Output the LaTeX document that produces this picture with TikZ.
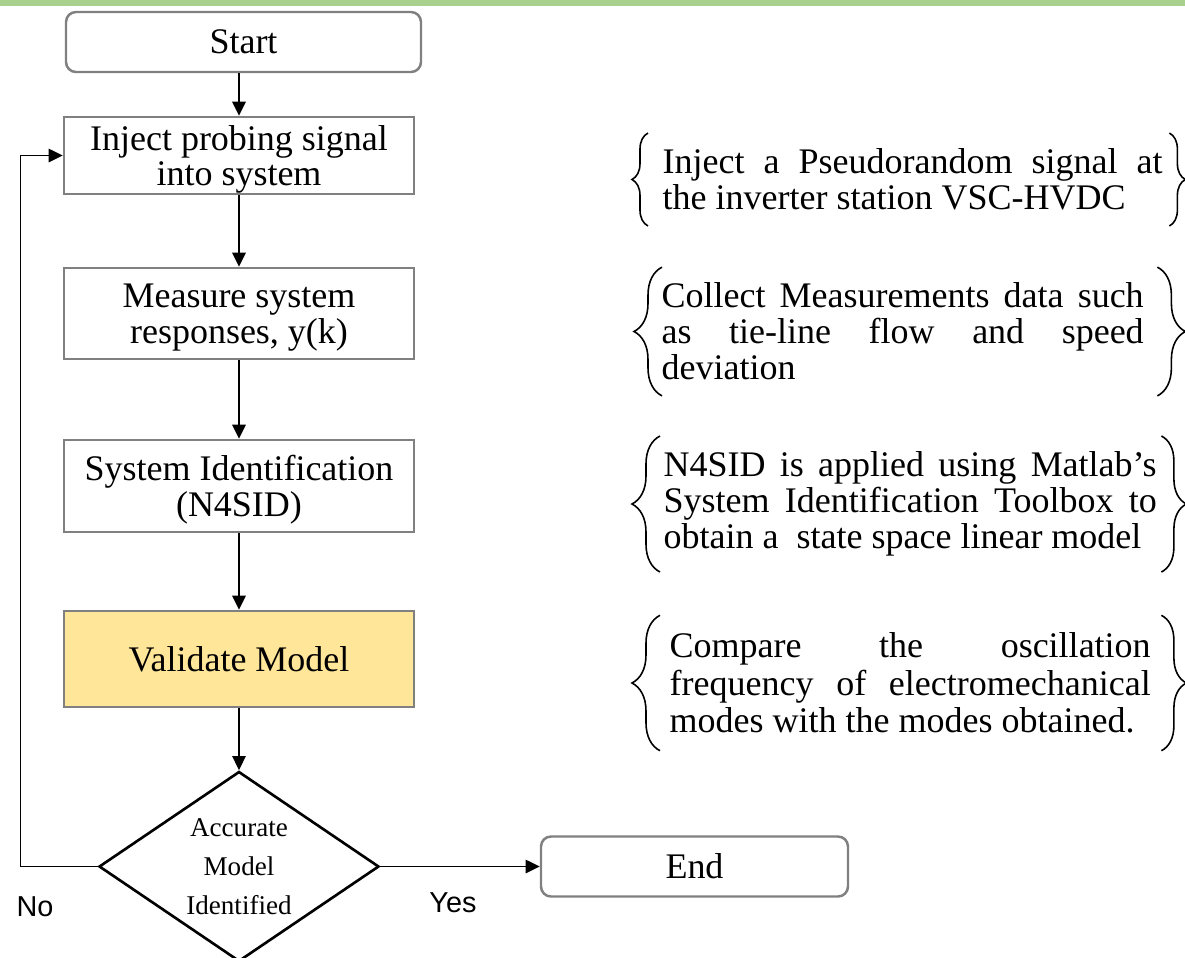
\documentclass[tikz,border=0pt]{standalone}
\usepackage{fontspec}
\setmainfont{Liberation Serif}
\newfontfamily\arialfont{Liberation Sans}
\usetikzlibrary{arrows.meta,shapes.geometric,decorations.pathreplacing,positioning}
\definecolor{barGreen}{HTML}{A9D18E}
\definecolor{boxGray}{HTML}{808080}
\definecolor{validYellow}{HTML}{FFE699}
\newcommand{\boxfont}{\fontsize{10.24}{10.24}\selectfont}
\newcommand{\decisionfont}{\fontsize{7.7}{11.1}\selectfont}
\tikzset{
  arrow/.style={-{Triangle[length=4pt,width=3.8pt]}, line width=0.45pt},
  process/.style={draw=boxGray, line width=0.7pt, minimum width=3.5cm, align=center, font=\boxfont, inner sep=0pt},
  lowtext/.style={text depth=-0.12cm},
  terminal/.style={process, rounded corners=0.1cm},
  decision/.style={diamond, draw, line width=0.75pt, aspect=1.47, minimum width=2.8cm, minimum height=1.9cm, inner sep=0pt, align=center, font=\decisionfont},
  note/.style={align=justify, inner sep=0pt, anchor=west, font=\boxfont},
  notebrace/.style={decorate, decoration={brace, amplitude=#1}, line width=0.45pt},
  answer/.style={font=\arialfont\fontsize{8.2}{9}\selectfont},
}

\begin{document}
\begin{tikzpicture}
  \useasboundingbox (0,0) rectangle (11.85,-9.57);

  % Top bar
  \fill[barGreen] (0,0) rectangle (11.85,-0.06);

  % Flow chart
  \node[terminal, minimum width=3.55cm, minimum height=0.6cm] (start) at (2.435,-0.42) {Start};
  \node[process, lowtext, minimum height=0.77cm] (inject) at (2.39,-1.555) {Inject probing signal\\into system};
  \node[process, lowtext, minimum height=0.91cm] (measure) at (2.39,-3.135) {Measure system\\responses, y(k)};
  \node[process, lowtext, minimum height=0.92cm] (ident) at (2.39,-4.86) {System Identification\\(N4SID)};
  \node[process, fill=validYellow, minimum height=0.96cm] (validate) at (2.39,-6.59) {Validate Model};
  \node[decision] (accurate) at (2.39,-8.665) {Accurate\\Model\\Identified};
  \node[terminal, minimum width=3.07cm, minimum height=0.6cm] (finish) at (6.945,-8.665) {End};

  \draw[arrow] (inject.north |- start.south) -- (inject.north);
  \draw[arrow] (inject) -- (measure);
  \draw[arrow] (measure) -- (ident);
  \draw[arrow] (ident) -- (validate);
  \draw[arrow] (validate) -- (accurate);
  \draw[arrow] (accurate.east) -- (finish.west);
  \draw[arrow] (accurate.west) -- ++(-0.77,0) |- (inject.west);

  % Branch labels
  \node[answer] (no) at (0.35,-9.07) {No};
  \node[answer] (yes) at (4.53,-9.03) {Yes};

  % Notes
  \node[note, text width=5.00cm] (note1) at (6.62,-1.795) {Inject a Pseudorandom signal at\linebreak the inverter station VSC-HVDC};
  \node[note, text width=4.82cm] (note2) at (6.61,-3.315) {Collect Measurements data such\linebreak as tie-line flow and speed\linebreak deviation};
  \node[note, text width=4.93cm] (note3) at (6.63,-5.04) {N4SID is applied using Matlab's\linebreak System Identification Toolbox to\linebreak obtain a\ \ state space linear model};
  \node[note, text width=4.81cm, font=\fontsize{10.24}{10.6}\selectfont] (note4) at (6.69,-6.83) {Compare the oscillation\linebreak frequency of electromechanical\linebreak modes with the modes obtained.};

  \draw[notebrace=0.16cm] ([xshift=-0.14cm,yshift=-0.15cm]note1.south west) -- ([xshift=-0.14cm,yshift=0.15cm]note1.north west);
  \draw[notebrace=0.16cm] ([xshift=0.06cm,yshift=0.15cm]note1.north east) -- ([xshift=0.06cm,yshift=-0.15cm]note1.south east);
  \draw[notebrace=0.28cm] ([xshift=0.01cm,yshift=-0.15cm]note2.south west) -- ([xshift=0.01cm,yshift=0.15cm]note2.north west);
  \draw[notebrace=0.28cm] ([xshift=0.13cm,yshift=0.15cm]note2.north east) -- ([xshift=0.13cm,yshift=-0.15cm]note2.south east);
  \draw[notebrace=0.28cm] ([xshift=-0.03cm,yshift=-0.15cm]note3.south west) -- ([xshift=-0.03cm,yshift=0.15cm]note3.north west);
  \draw[notebrace=0.25cm] ([xshift=0.04cm,yshift=0.15cm]note3.north east) -- ([xshift=0.04cm,yshift=-0.15cm]note3.south east);
  \draw[notebrace=0.28cm] ([xshift=-0.09cm,yshift=-0.17cm]note4.south west) -- ([xshift=-0.09cm,yshift=0.17cm]note4.north west);
  \draw[notebrace=0.25cm] ([xshift=0.1cm,yshift=0.17cm]note4.north east) -- ([xshift=0.1cm,yshift=-0.17cm]note4.south east);
\end{tikzpicture}
\end{document}
